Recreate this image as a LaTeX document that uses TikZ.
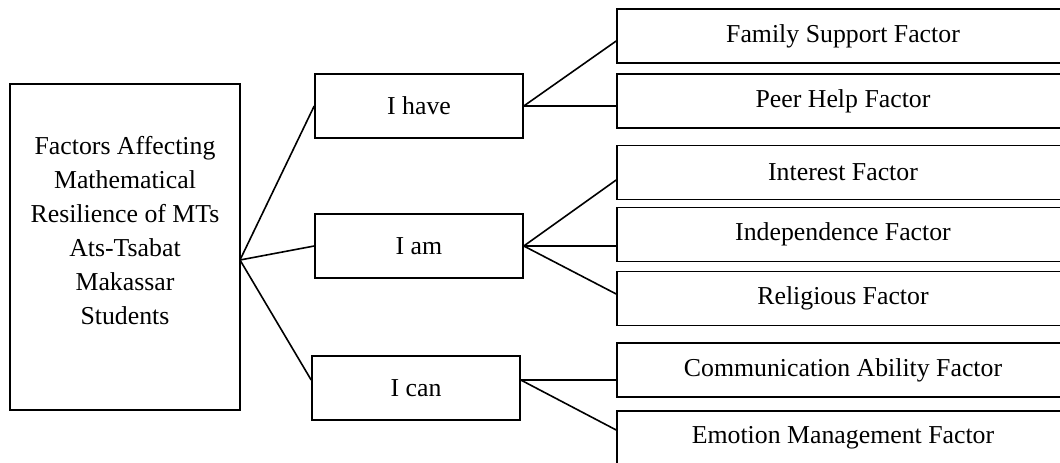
\documentclass[tikz,border=0pt]{standalone}
\usepackage{fontspec}
\setmainfont{Liberation Serif}

\begin{document}
\begin{tikzpicture}[x=1pt, y=-1pt, line width=1.6pt,
  box/.style={draw, rectangle, inner sep=0pt, font=\fontsize{25.8}{34}\selectfont},
  midbox/.style={box, minimum width=208pt, minimum height=64pt},
  factor/.style={box, minimum width=452pt, minimum height=54pt}]

\useasboundingbox (0,0) rectangle (1060,463);
\clip (0,0) rectangle (1060,463);

\node[box, minimum width=230pt, minimum height=326pt, align=center] (main) at (125,247)
  {Factors Affecting\\Mathematical\\Resilience of MTs\\Ats-Tsabat\\Makassar\\Students\\\mbox{}};

\node[midbox] (have) at (419,106) {I have};
\node[midbox] (am) at (419,246) {I am};
\node[midbox] (can) at (416,388) {I can};

\node[factor] (fam) at (843,36) {Family Support Factor};
\node[factor] (peer) at (843,101) {Peer Help Factor};
\node[factor] (int) at (843,172.5) {Interest Factor};
\node[factor] (ind) at (843,234.5) {Independence Factor};
\node[factor] (rel) at (843,298.5) {Religious Factor};
\node[factor] (com) at (843,370) {Communication Ability Factor};
\node[factor] (emo) at (843,438) {Emotion Management Factor};

\coordinate (hub) at (240,260);
\coordinate (canin) at ([yshift=8pt]can.west);
\coordinate (canout) at ([yshift=8pt]can.east);

\draw (hub) -- (have.west);
\draw (hub) -- (am.west);
\draw (hub) -- (canin);

\draw (have.east) -- ([yshift=-5pt]fam.west);
\draw (have.east) -- (have.east -| peer.west);

\draw (am.east) -- ([yshift=-7.5pt]int.west);
\draw (am.east) -- (am.east -| ind.west);
\draw (am.east) -- ([yshift=4.5pt]rel.west);

\draw (canout) -- (canout -| com.west);
\draw (canout) -- ([yshift=8pt]emo.west);

\end{tikzpicture}
\end{document}
